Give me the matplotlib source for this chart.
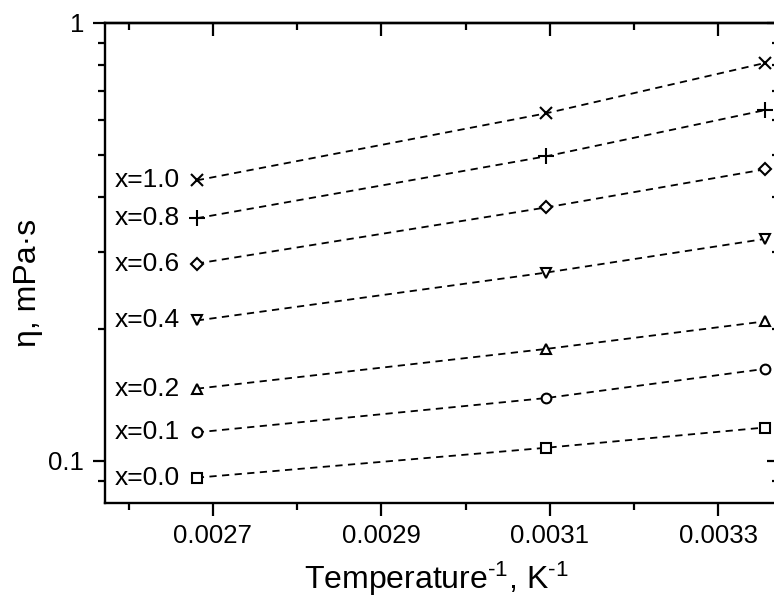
import matplotlib.pyplot as plt
from matplotlib.ticker import FixedLocator, FixedFormatter, NullFormatter

plt.rcParams['font.family'] = ['Liberation Sans', 'DejaVu Sans']
plt.rcParams['mathtext.fontset'] = 'custom'
plt.rcParams['mathtext.rm'] = 'Liberation Sans'
plt.rcParams['mathtext.it'] = 'Liberation Sans'

# inverse temperature, 1/K  (373 K, 323 K, 298 K)
inv_T = [0.002681, 0.003096, 0.003355]

# viscosity, mPa*s
labels = ['x=0.0', 'x=0.1', 'x=0.2', 'x=0.4', 'x=0.6', 'x=0.8', 'x=1.0']
eta = [
    [0.0914, 0.107, 0.119],
    [0.116, 0.139, 0.162],
    [0.146, 0.180, 0.208],
    [0.209, 0.269, 0.321],
    [0.282, 0.379, 0.463],
    [0.358, 0.496, 0.632],
    [0.437, 0.622, 0.810],
]
markers = ['s', 'o', '^', 'v', 'D', '+', 'x']
msizes = [6.5, 7, 7.5, 7.5, 6, 11, 9]

x_major = [0.0027, 0.0029, 0.0031, 0.0033]
x_minor = [0.0026, 0.0028, 0.0030, 0.0032]
y_major = [0.1, 1.0]
y_minor = [0.09, 0.2, 0.3, 0.4, 0.5, 0.6, 0.7, 0.8, 0.9]

fig = plt.figure(figsize=(7.74, 5.98), dpi=100)
ax = fig.add_axes([105 / 774, 95 / 598, 674 / 774, 480 / 598])

for lab, vals, mk, ms in zip(labels, eta, markers, msizes):
    ax.plot(inv_T, vals, linestyle=(0, (4, 3)), color='black', linewidth=1.3,
            marker=mk, markersize=ms, markerfacecolor='white',
            markeredgecolor='black', markeredgewidth=1.5)
    ax.annotate(lab, xy=(inv_T[0], vals[0]), xytext=(-12, 0),
                textcoords='offset points', ha='right', va='center',
                fontsize=19)

ax.set_yscale('log')
ax.set_xlim(0.002572, 0.003372)
ax.set_ylim(0.08, 1.0)

ax.xaxis.set_major_locator(FixedLocator(x_major))
ax.xaxis.set_major_formatter(FixedFormatter(['%.4f' % v for v in x_major]))
ax.xaxis.set_minor_locator(FixedLocator(x_minor))
ax.yaxis.set_major_locator(FixedLocator(y_major))
ax.yaxis.set_major_formatter(FixedFormatter(['0.1', '1']))
ax.yaxis.set_minor_locator(FixedLocator(y_minor))
ax.yaxis.set_minor_formatter(NullFormatter())

for s in ax.spines.values():
    s.set_linewidth(1.7)

ax.tick_params(which='both', direction='out', width=1.6, labelsize=18.5, pad=6)
ax.tick_params(which='major', length=9)
ax.tick_params(which='minor', length=5)

# top and right: ticks pointing inward, no labels
top = ax.secondary_xaxis('top')
top.set_xticks(x_major)
top.set_xticks(x_minor, minor=True)
top.tick_params(which='both', direction='in', width=1.6, labeltop=False)
top.tick_params(which='major', length=9)
top.tick_params(which='minor', length=5)
top.spines['top'].set_linewidth(1.7)

right = ax.secondary_yaxis('right')
right.set_yticks(y_major)
right.set_yticks(y_minor, minor=True)
right.yaxis.set_minor_formatter(NullFormatter())
right.tick_params(which='both', direction='in', width=1.6, labelright=False)
right.tick_params(which='major', length=9)
right.tick_params(which='minor', length=5)

fig.text(436 / 774, 9 / 598, 'Temperature$^{\u2010 1}$, K$^{\u2010 1}$',
         fontsize=23, ha='center', va='baseline')
fig.text(28 / 774, 1 - 283 / 598, 'η, mPa·s', fontsize=23,
         rotation=90, ha='center', va='center')

fig.savefig('out.png', dpi=100)
